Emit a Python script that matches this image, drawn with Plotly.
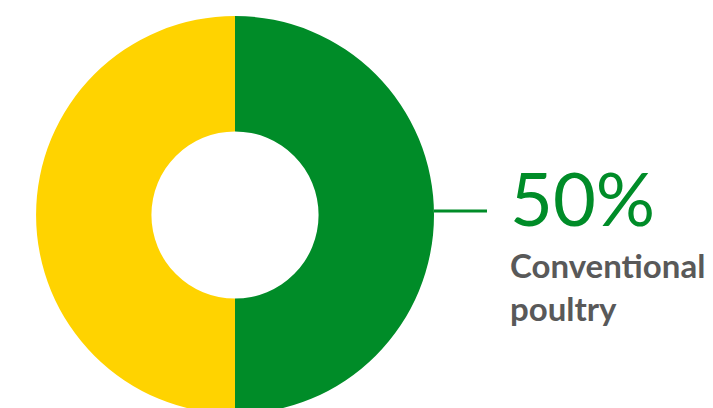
import plotly.graph_objects as go

labels = ["Conventional poultry", "Other"]
values = [50, 50]
colors = ["#008C28", "#FFD300"]

W, H = 713, 430

def px(x):
    return x / W

def py(y):
    return 1 - y / H

fig = go.Figure(go.Pie(
    labels=labels, values=values, hole=0.42, sort=False, direction="clockwise",
    rotation=0, marker=dict(colors=colors, line=dict(width=0)), textinfo="none",
    hoverinfo="label+percent", showlegend=False,
    domain=dict(x=[px(36), px(434)], y=[py(414), py(16)]),
))

fig.add_shape(type="line", xref="paper", yref="paper",
              x0=px(434), x1=px(487), y0=py(211), y1=py(211),
              line=dict(color="#008C28", width=3))

fig.add_annotation(xref="paper", yref="paper", x=px(508), y=py(197),
                   xanchor="left", yanchor="middle", showarrow=False,
                   text=f"{values[0]}%",
                   font=dict(family="Lato", size=74, color="#008C28"))
fig.add_annotation(xref="paper", yref="paper", x=px(508), y=py(243),
                   xanchor="left", yanchor="top", showarrow=False, align="left",
                   text="<b>Conventional</b><br><b>poultry</b>",
                   font=dict(family="Lato", size=33, color="#595959"))

fig.update_layout(width=W, height=H, margin=dict(l=0, r=0, t=0, b=0),
                  paper_bgcolor="white", plot_bgcolor="white")

fig.write_html("out.html",
               post_script="document.documentElement.style.overflow='hidden';document.body.style.overflow='hidden';document.body.style.margin='0';")
